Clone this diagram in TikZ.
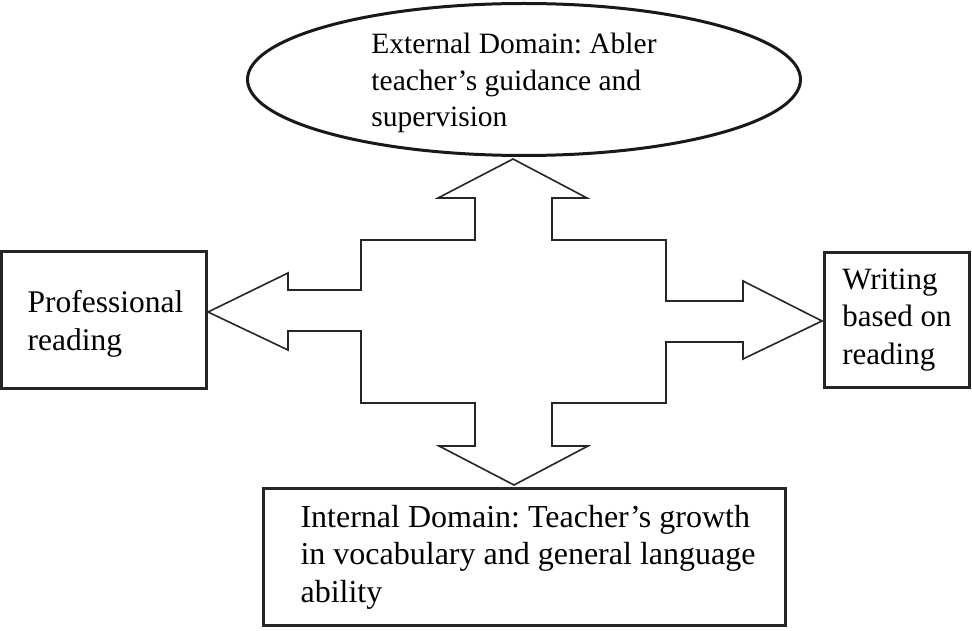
\documentclass[tikz,border=0pt]{standalone}
\usepackage{fontspec}
\setmainfont{Liberation Serif}
\usetikzlibrary{shapes.geometric}
\begin{document}
\frenchspacing
\begin{tikzpicture}[x=1pt,y=-1pt,
  boxnode/.style={draw=black!85,line width=3pt,inner sep=0pt,align=left,
    font=\fontsize{31}{37.5}\selectfont},
  textnode/.style={inner sep=0pt,align=left},
  crossline/.style={draw=black!85,line width=1.6pt,line join=miter}]
\useasboundingbox (0,0) rectangle (972,631);
\fill[white] (0,0) rectangle (972,631);
% nodes
\node[draw=black!90,line width=3pt,ellipse,minimum width=553pt,minimum height=152pt,inner sep=0pt] (ext) at (524,79.5) {};
\node[textnode,font=\fontsize{29.5}{36.5}\selectfont] (exttext) at (514,83) {External Domain: Abler\\teacher’s guidance and\\supervision};
\node[boxnode,minimum width=205pt,minimum height=136pt] (prof) at (104,320) {};
\node[textnode,font=\fontsize{31.5}{38}\selectfont] (proftext) at (105.5,324) {Professional\\reading};
\node[boxnode,minimum width=145pt,minimum height=135pt] (writ) at (897,320) {Writing\\based on\\reading};
\node[boxnode,minimum width=522pt,minimum height=137pt] (int) at (524.5,557) {};
\node[textnode,font=\fontsize{32}{37.5}\selectfont] (inttext) at (528,557) {Internal Domain: Teacher’s growth\\in vocabulary and general language\\ability};
% cross-shaped four-way arrow
\draw[crossline]
  (513,159) -- (587,198) -- (552,198) -- (552,240) -- (666,240) -- (666,301)
  -- (743,301) -- (743,281) -- (822,321) -- (743,359) -- (743,342) -- (666,342)
  -- (666,403) -- (552,403) -- (552,446) -- (588,446) -- (514,485) -- (439,446)
  -- (475,446) -- (475,403) -- (361,403) -- (361,331) -- (288,331) -- (288,350)
  -- (208,312) -- (288,273) -- (288,290) -- (361,290) -- (361,240) -- (475,240)
  -- (475,198) -- (438,198) -- cycle;
\end{tikzpicture}
\end{document}
